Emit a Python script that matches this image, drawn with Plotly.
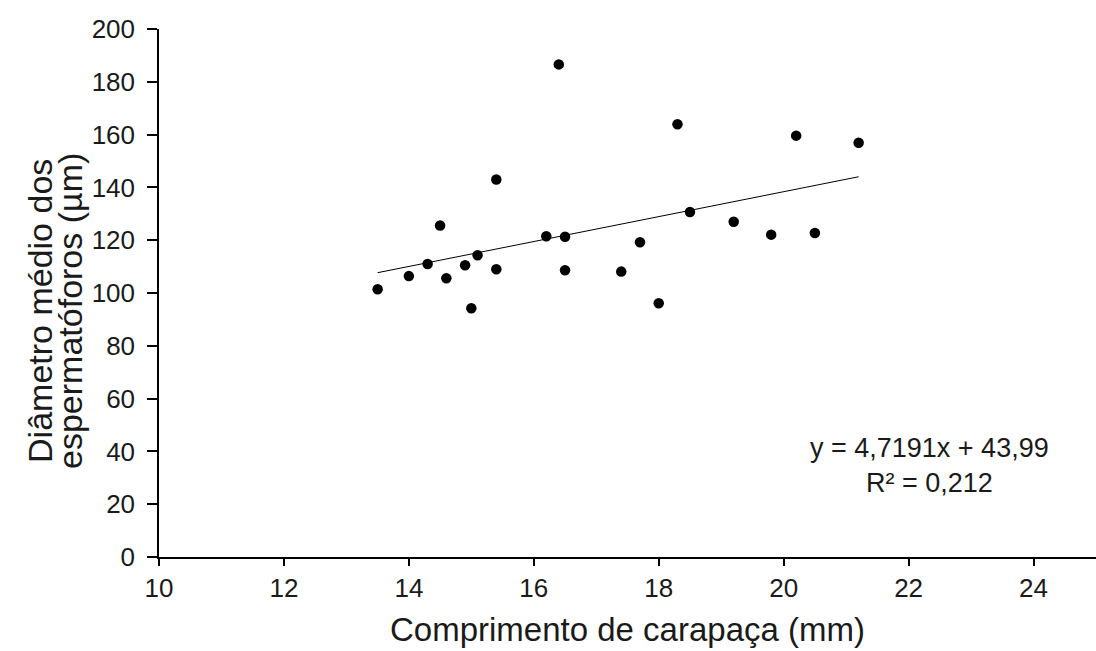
import plotly.graph_objects as go

# Data
comprimento_mm = [13.5, 14.0, 14.3, 14.5, 14.6, 14.9, 15.0, 15.1, 15.4, 15.4,
                  16.2, 16.4, 16.5, 16.5, 17.4, 17.7, 18.0, 18.3, 18.5, 19.2,
                  19.8, 20.2, 20.5, 21.2]
diametro_um = [101.4, 106.4, 111.0, 125.6, 105.6, 110.5, 94.2, 114.3, 143.0, 109.0,
               121.5, 186.6, 121.3, 108.6, 108.1, 119.2, 96.1, 163.9, 130.7, 127.0,
               122.1, 159.6, 122.7, 156.9]

slope = 4.7191
intercept = 43.99
r2_text = "0,212"
trend_x = [min(comprimento_mm), max(comprimento_mm)]
trend_y = [slope * v + intercept for v in trend_x]

x_ticks = [10, 12, 14, 16, 18, 20, 22, 24]
y_ticks = [0, 20, 40, 60, 80, 100, 120, 140, 160, 180, 200]

FONT = "Liberation Sans, Arial, sans-serif"
TXT = "#1a1a1a"

fig = go.Figure()
fig.add_trace(go.Scatter(
    x=comprimento_mm, y=diametro_um, mode="markers",
    marker=dict(color="black", size=10.5), showlegend=False, hoverinfo="x+y"))
fig.add_trace(go.Scatter(
    x=trend_x, y=trend_y, mode="lines",
    line=dict(color="black", width=1), showlegend=False, hoverinfo="skip"))

fig.update_layout(
    width=1096, height=651,
    margin=dict(l=159, r=0, t=29, b=94),
    paper_bgcolor="white", plot_bgcolor="white",
    font=dict(family=FONT, color=TXT),
    xaxis=dict(
        range=[10, 25], tickvals=x_ticks, ticks="outside", ticklen=7,
        tickcolor="black", tickwidth=1.5, showline=True, linecolor="black",
        linewidth=1.5, showgrid=False, zeroline=False,
        tickfont=dict(size=26, family=FONT, color=TXT),
        title=dict(text="Comprimento de carapaça (mm)",
                   font=dict(size=33, family=FONT, color=TXT), standoff=16),
    ),
    yaxis=dict(
        range=[0, 200], tickvals=y_ticks, ticks="outside", ticklen=10,
        tickcolor="black", tickwidth=1.5, showline=True, linecolor="black",
        linewidth=1.5, showgrid=False, zeroline=False,
        tickfont=dict(size=26, family=FONT, color=TXT),
        ticklabelstandoff=7,
    ),
    annotations=[
        dict(text="Diâmetro médio dos", xref="paper", yref="paper",
             x=0, xshift=-119, y=0.466, textangle=-90, showarrow=False,
             xanchor="center", yanchor="middle",
             font=dict(size=34, family=FONT, color=TXT)),
        dict(text="espermatóforos (µm)", xref="paper", yref="paper",
             x=0, xshift=-89, y=0.466, textangle=-90, showarrow=False,
             xanchor="center", yanchor="middle",
             font=dict(size=34, family=FONT, color=TXT)),
        dict(text="y = 4,7191x + 43,99<br>R² = " + r2_text,
             xref="paper", yref="paper", x=0.8227, y=0.174,
             showarrow=False, xanchor="center", yanchor="middle", align="center",
             font=dict(size=27, family=FONT, color=TXT)),
    ],
)

fig.write_html(
    "out.html",
    config={"displayModeBar": False},
    post_script="document.body.style.margin='0';document.body.style.overflow='hidden';",
)
